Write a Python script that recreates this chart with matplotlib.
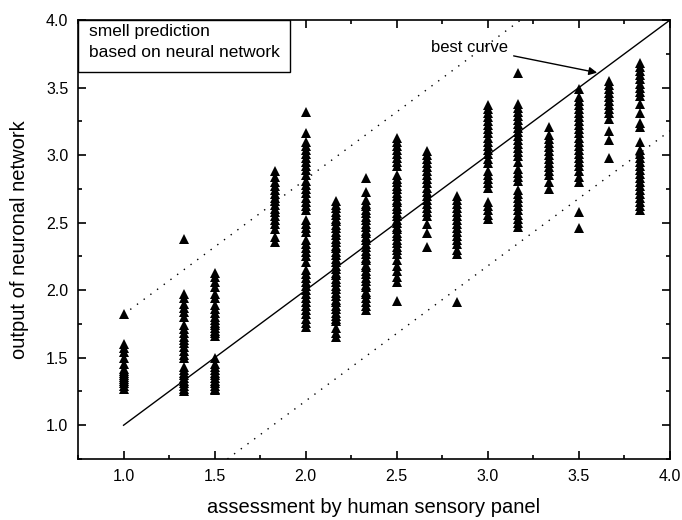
import matplotlib
matplotlib.use("Agg")
import matplotlib.pyplot as plt
from matplotlib.patches import Rectangle
from matplotlib.ticker import MultipleLocator

plt.rcParams['font.family'] = ['Liberation Sans', 'DejaVu Sans']

# panel assessment levels (x categories)
x_levels = [1.0, 4/3, 1.5, 11/6, 2.0, 13/6, 7/3, 2.5, 8/3, 17/6, 3.0, 19/6, 10/3, 3.5, 11/3, 23/6]

# network outputs for each level
col_100 = [1.82, 1.60, 1.57, 1.54, 1.50, 1.45, 1.42, 1.40, 1.39, 1.37, 1.36, 1.34, 1.33, 1.31, 1.29, 1.27]
col_133 = [2.38, 1.97, 1.94, 1.90, 1.87, 1.84, 1.80, 1.74, 1.71, 1.68, 1.65, 1.63, 1.61, 1.58, 1.55,
           1.52, 1.50, 1.43, 1.41, 1.39, 1.37, 1.35, 1.33, 1.31, 1.29, 1.27, 1.25]
col_150 = [2.13, 2.10, 2.06, 2.02, 1.97, 1.94, 1.89, 1.86, 1.83, 1.80, 1.78, 1.76, 1.74, 1.72, 1.70,
           1.68, 1.66, 1.50, 1.45, 1.43, 1.41, 1.39, 1.37, 1.35, 1.33, 1.31, 1.29, 1.27, 1.26]
col_183 = [2.88, 2.84, 2.80, 2.77, 2.74, 2.71, 2.68, 2.66, 2.63, 2.60, 2.58, 2.55, 2.52, 2.49, 2.45, 2.39, 2.36]
col_200 = [3.32, 3.16, 3.10, 3.07, 3.04, 3.01, 2.98, 2.95, 2.92, 2.89, 2.85, 2.81, 2.78, 2.75, 2.72,
           2.68, 2.65, 2.62, 2.59, 2.52, 2.49, 2.46, 2.43, 2.37, 2.34, 2.31, 2.28, 2.25, 2.21, 2.15,
           2.12, 2.09, 2.06, 2.03, 2.00, 1.97, 1.94, 1.91, 1.88, 1.85, 1.82, 1.79, 1.76, 1.73]
col_217 = [2.66, 2.63, 2.61, 2.58, 2.56, 2.53, 2.51, 2.48, 2.46, 2.43, 2.41, 2.38, 2.36, 2.33, 2.31,
           2.28, 2.26, 2.23, 2.21, 2.18, 2.16, 2.13, 2.11, 2.08, 2.06, 2.03, 2.01, 1.98, 1.96, 1.93,
           1.91, 1.88, 1.86, 1.83, 1.81, 1.79, 1.77, 1.72, 1.68, 1.65]
col_233 = [2.83, 2.73, 2.67, 2.64, 2.62, 2.59, 2.57, 2.54, 2.52, 2.49, 2.47, 2.44, 2.42, 2.39, 2.37,
           2.34, 2.32, 2.29, 2.27, 2.24, 2.22, 2.19, 2.17, 2.14, 2.12, 2.09, 2.07, 2.04, 2.02, 1.99,
           1.97, 1.94, 1.91, 1.88, 1.85]
col_250 = [3.13, 3.10, 3.07, 3.04, 3.01, 2.98, 2.95, 2.92, 2.85, 2.82, 2.80, 2.77, 2.75, 2.72, 2.70,
           2.67, 2.65, 2.62, 2.60, 2.57, 2.55, 2.52, 2.50, 2.47, 2.45, 2.42, 2.40, 2.37, 2.35, 2.32,
           2.30, 2.27, 2.22, 2.18, 2.14, 2.10, 2.06, 1.92]
col_267 = [3.03, 3.00, 2.97, 2.94, 2.91, 2.88, 2.85, 2.82, 2.79, 2.76, 2.73, 2.70, 2.67, 2.64, 2.61,
           2.58, 2.55, 2.49, 2.42, 2.32]
col_283 = [2.70, 2.67, 2.64, 2.61, 2.58, 2.55, 2.52, 2.49, 2.46, 2.43, 2.40, 2.37, 2.34, 2.30, 2.27, 1.91]
col_300 = [3.37, 3.34, 3.31, 3.28, 3.25, 3.22, 3.19, 3.16, 3.13, 3.10, 3.07, 3.04, 3.01, 2.97, 2.94,
           2.88, 2.85, 2.82, 2.79, 2.76, 2.65, 2.62, 2.59, 2.56, 2.53]
col_317 = [3.61, 3.38, 3.35, 3.32, 3.29, 3.26, 3.23, 3.20, 3.17, 3.14, 3.11, 3.08, 3.05, 3.02, 2.99,
           2.95, 2.90, 2.87, 2.84, 2.81, 2.74, 2.71, 2.68, 2.65, 2.62, 2.59, 2.56, 2.53, 2.50, 2.47]
col_333 = [3.21, 3.15, 3.12, 3.09, 3.06, 3.03, 3.00, 2.97, 2.94, 2.91, 2.88, 2.85, 2.80, 2.75]
col_350 = [3.49, 3.43, 3.40, 3.37, 3.34, 3.31, 3.28, 3.25, 3.22, 3.19, 3.16, 3.13, 3.10, 3.07, 3.04,
           3.01, 2.98, 2.95, 2.92, 2.88, 2.84, 2.80, 2.58, 2.46]
col_367 = [3.55, 3.52, 3.49, 3.46, 3.43, 3.40, 3.37, 3.34, 3.31, 3.27, 3.18, 3.11, 2.98]
col_383 = [3.68, 3.65, 3.62, 3.59, 3.56, 3.53, 3.50, 3.47, 3.44, 3.38, 3.31, 3.24, 3.21, 3.10, 3.04,
           3.01, 2.98, 2.95, 2.92, 2.89, 2.86, 2.83, 2.80, 2.77, 2.74, 2.71, 2.68, 2.65, 2.62, 2.59]

columns = [col_100, col_133, col_150, col_183, col_200, col_217, col_233, col_250,
           col_267, col_283, col_300, col_317, col_333, col_350, col_367, col_383]

# reference lines
best_x = [1.0, 4.0]
band_offset = 0.82
upper_x = [1.0, 4.0 - band_offset]
lower_x = [0.75 + band_offset, 4.0]

fig = plt.figure(figsize=(6.82, 5.2), dpi=100)
ax = fig.add_axes([0.1144, 0.1173, 0.8680, 0.8442])

for xv, ys in zip(x_levels, columns):
    ax.plot([xv] * len(ys), ys, linestyle='none', marker='^', markersize=7,
            color='black', markeredgewidth=0)

ax.plot(best_x, best_x, color='black', lw=1.0)
ax.plot(upper_x, [v + band_offset for v in upper_x], color='black', lw=1.0,
        linestyle=(0, (1, 5)))
ax.plot(lower_x, [v - band_offset for v in lower_x], color='black', lw=1.0,
        linestyle=(0, (1, 5)))

ax.set_xlim(0.75, 4.0)
ax.set_ylim(0.75, 4.0)
ax.xaxis.set_major_locator(MultipleLocator(0.5))
ax.xaxis.set_minor_locator(MultipleLocator(0.25))
ax.yaxis.set_major_locator(MultipleLocator(0.5))
ax.yaxis.set_minor_locator(MultipleLocator(0.25))
ax.xaxis.set_major_formatter(plt.FuncFormatter(lambda v, p: f"{v:.1f}" if v >= 0.99 else ""))
ax.yaxis.set_major_formatter(plt.FuncFormatter(lambda v, p: f"{v:.1f}" if v >= 0.99 else ""))
ax.tick_params(which='both', direction='in', top=True, right=True, width=1.2)
ax.tick_params(which='major', length=6, labelsize=11.5, pad=7)
ax.tick_params(which='minor', length=3)
for s in ax.spines.values():
    s.set_linewidth(1.2)

ax.set_xlabel('assessment by human sensory panel', fontsize=14.5, labelpad=10)
ax.set_ylabel('output of neuronal network', fontsize=14.5, labelpad=12)

# info box in upper left
ax.add_patch(Rectangle((0.0, 0.882), 0.358, 0.118, transform=ax.transAxes,
                       facecolor='white', edgecolor='black', lw=1.0, zorder=5))
ax.text(0.019, 0.99, 'smell prediction\nbased on neural network', transform=ax.transAxes,
        ha='left', va='top', fontsize=12.5, linespacing=1.45, zorder=6)

ax.annotate('best curve', xy=(3.60, 3.61), xytext=(2.90, 3.80),
            ha='center', va='center', fontsize=12,
            arrowprops=dict(arrowstyle='-|>', color='black', lw=1.0,
                            mutation_scale=12, shrinkA=2, shrinkB=0))

fig.savefig('out.png', dpi=100)
